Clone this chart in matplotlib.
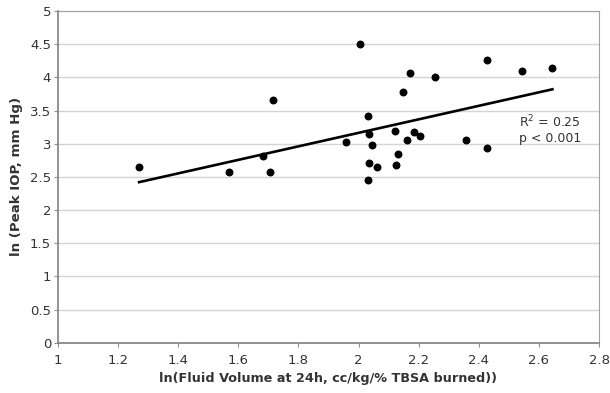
import numpy as np
import matplotlib.pyplot as plt

# ln(fluid volume) vs ln(peak IOP)
fluid = [1.269, 1.570, 1.681, 1.706, 1.717, 1.957, 2.006, 2.032, 2.035, 2.046,
         2.035, 2.060, 2.032, 2.120, 2.123, 2.130, 2.148, 2.160, 2.170, 2.184,
         2.205, 2.253, 2.356, 2.427, 2.429, 2.545, 2.644]
iop = [2.65, 2.575, 2.81, 2.575, 3.655, 3.03, 4.51, 3.42, 3.15, 2.98,
       2.715, 2.65, 2.455, 3.19, 2.685, 2.845, 3.78, 3.06, 4.07, 3.17,
       3.12, 4.00, 3.06, 4.26, 2.93, 4.09, 4.14]

# trend line end points
trend_x = [1.27, 2.645]
trend_y = [2.42, 3.82]

xticks = [1, 1.2, 1.4, 1.6, 1.8, 2, 2.2, 2.4, 2.6, 2.8]
yticks = [0, 0.5, 1, 1.5, 2, 2.5, 3, 3.5, 4, 4.5, 5]

fig = plt.figure(figsize=(6.1, 3.93), dpi=100)
ax = fig.add_axes([0.095, 0.128, 0.887, 0.844])

ax.scatter(fluid, iop, s=22, color='black', zorder=3)
ax.plot(trend_x, trend_y, color='black', lw=1.9, zorder=2)

ax.set_xlim(1, 2.8)
ax.set_ylim(0, 5)
ax.set_xticks(xticks)
ax.set_xticklabels([f'{t:g}' for t in xticks])
ax.set_yticks(yticks)
ax.set_yticklabels([f'{t:g}' for t in yticks])
ax.yaxis.grid(True, color='#d4d4d4', lw=1)
ax.set_axisbelow(True)

for side in ['top', 'right']:
    ax.spines[side].set_color('#a0a0a0')
for side in ['left', 'bottom']:
    ax.spines[side].set_color('#808080')
    ax.spines[side].set_linewidth(1.2)
ax.tick_params(axis='both', colors='#909090', labelcolor='#333333',
               labelsize=9.5, length=3, width=0.8)
ax.tick_params(axis='x', pad=5)
ax.tick_params(axis='y', pad=2)

ax.set_xlabel('ln(Fluid Volume at 24h, cc/kg/% TBSA burned))',
              fontsize=9.2, fontweight='bold', color='#333333', labelpad=4)
ax.set_ylabel('ln (Peak IOP, mm Hg)', fontsize=9.6, fontweight='bold',
              color='#333333', labelpad=5)

ax.text(2.535, 3.33, 'R$^2$ = 0.25', fontsize=9, color='#333333', va='center')
ax.text(2.535, 3.08, 'p < 0.001', fontsize=9, color='#333333', va='center')

fig.savefig('out.png', dpi=100)
